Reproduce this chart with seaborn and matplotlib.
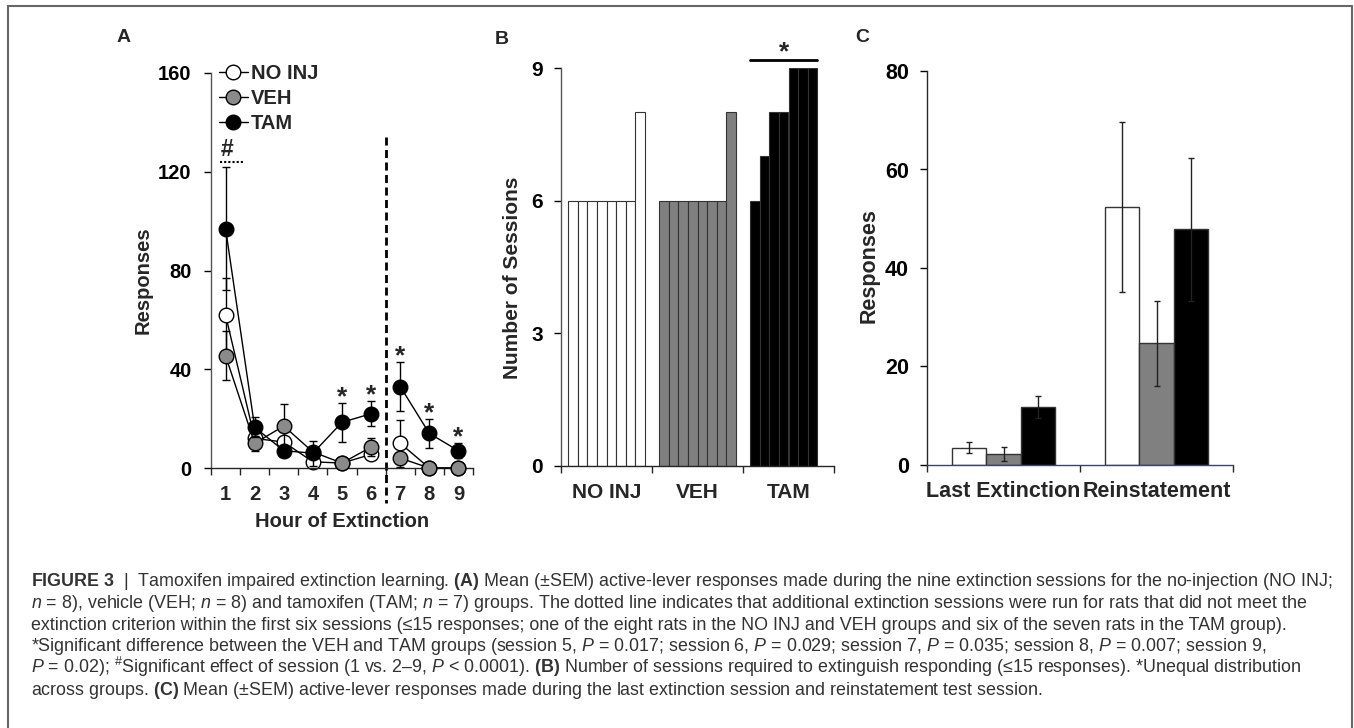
import numpy as np
import pandas as pd
import matplotlib
matplotlib.use("Agg")
import matplotlib.pyplot as plt
from matplotlib.lines import Line2D
import seaborn as sns

# ---------------- data ----------------
hours = [1, 2, 3, 4, 5, 6, 7, 8, 9]
groups = ["NO INJ", "VEH", "TAM"]
noinj_mean = [62, 12, 10.5, 2.5, 2, 5.5, 10, 0, 0]
noinj_sem = [15, 2, 2, 1, 1, 1.5, 9.5, 0.5, 0.5]
veh_mean = [45.5, 10, 17, 6.5, 2, 8.5, 4, 0, 0]
veh_sem = [10, 3, 9, 2, 1, 3.5, 2, 0.5, 0.5]
tam_mean = [97, 16.5, 7, 6, 18.5, 22, 33, 14, 7]
tam_sem = [25, 4, 2, 5, 8, 5, 10, 6, 3]
sig_hours = [5, 6, 7, 8, 9]
a_yticks = [0, 40, 80, 120, 160]

sessions_noinj = [6, 6, 6, 6, 6, 6, 6, 8]
sessions_veh = [6, 6, 6, 6, 6, 6, 6, 8]
sessions_tam = [6, 7, 8, 8, 9, 9, 9]
b_yticks = [0, 3, 6, 9]

phases = ["Last Extinction", "Reinstatement"]
c_noinj_mean = [3.5, 52.4]
c_noinj_sem = [1.1, 17.3]
c_veh_mean = [2.2, 24.7]
c_veh_sem = [1.4, 8.7]
c_tam_mean = [11.8, 47.9]
c_tam_sem = [2.3, 14.5]
c_yticks = [0, 20, 40, 60, 80]

caption_lines = [
    r"$\mathbf{FIGURE\ 3}$  |  Tamoxifen impaired extinction learning. $\mathbf{(A)}$ Mean (±SEM) active-lever responses made during the nine extinction sessions for the no-injection (NO INJ;",
    r"$\mathit{n}$ = 8), vehicle (VEH; $\mathit{n}$ = 8) and tamoxifen (TAM; $\mathit{n}$ = 7) groups. The dotted line indicates that additional extinction sessions were run for rats that did not meet the",
    r"extinction criterion within the first six sessions (≤15 responses; one of the eight rats in the NO INJ and VEH groups and six of the seven rats in the TAM group).",
    r"*Significant difference between the VEH and TAM groups (session 5, $\mathit{P}$ = 0.017; session 6, $\mathit{P}$ = 0.029; session 7, $\mathit{P}$ = 0.035; session 8, $\mathit{P}$ = 0.007; session 9,",
    r"$\mathit{P}$ = 0.02); $^{\#}$Significant effect of session (1 vs. 2–9, $\mathit{P}$ < 0.0001). $\mathbf{(B)}$ Number of sessions required to extinguish responding (≤15 responses). *Unequal distribution",
    r"across groups. $\mathbf{(C)}$ Mean (±SEM) active-lever responses made during the last extinction session and reinstatement test session.",
]

# ---------------- style ----------------
sns.set_style("ticks")
plt.rcParams["font.family"] = ["Liberation Sans", "DejaVu Sans"]
plt.rcParams["mathtext.fontset"] = "custom"
plt.rcParams["mathtext.rm"] = "Liberation Sans"
plt.rcParams["mathtext.it"] = "Liberation Sans:italic"
plt.rcParams["mathtext.bf"] = "Liberation Sans:bold"
plt.rcParams["axes.linewidth"] = 1.0

W, H = 1354, 728
fig = plt.figure(figsize=(W / 100, H / 100), dpi=100)
fig.patch.set_facecolor("white")


def rect(l, t, r, b):
    return [l / W, 1 - b / H, (r - l) / W, (b - t) / H]


def style_axes(ax, fs, ypad, xpad):
    sns.despine(ax=ax)
    ax.tick_params(axis="y", direction="out", length=5, width=1, pad=ypad,
                   labelsize=fs, colors="black")
    ax.tick_params(axis="x", which="major", length=0, pad=xpad, labelsize=fs)
    ax.tick_params(axis="x", which="minor", direction="out", length=5, width=1)
    for lab in ax.get_xticklabels() + ax.get_yticklabels():
        lab.set_fontweight("bold")


# ---------------- panel A ----------------
axA = fig.add_axes(rect(211, 73, 473, 468))
a_colors = ["white", "#8a8a8a", "black"]
a_means = [noinj_mean, veh_mean, tam_mean]
a_sems = [noinj_sem, veh_sem, tam_sem]
for k, (g, m, s, c) in enumerate(zip(groups, a_means, a_sems, a_colors)):
    df = pd.DataFrame({"hour": hours, "resp": m,
                       "seg": ["a" if h <= 6 else "b" for h in hours]})
    axA.errorbar(hours, m, yerr=s, fmt="none", ecolor="black", elinewidth=1,
                 capsize=3, capthick=1, zorder=2 + k)
    sns.lineplot(data=df, x="hour", y="resp", units="seg", estimator=None,
                 color="black", linewidth=1, marker="o", markersize=10.5,
                 markerfacecolor=c, markeredgecolor="black", markeredgewidth=1,
                 ax=axA, zorder=2.5 + k, clip_on=False, legend=False)
axA.set_xlim(0.5, 9.5)
axA.set_ylim(0, 160)
axA.set_yticks(a_yticks)
axA.set_xticks(hours)
axA.set_xticks(np.arange(0.5, 10, 1), minor=True)
axA.set_xticklabels([str(h) for h in hours])
axA.set_xlabel("Hour of Extinction", fontsize=14.5, fontweight="bold", labelpad=6)
axA.set_ylabel("Responses", fontsize=14.5, fontweight="bold")
axA.yaxis.set_label_coords(-0.221, 0.476)
style_axes(axA, 14.5, 9, 12)
axA.spines["left"].set_color("#555555")
# dashed separator and significance marks
axA.plot([6.5, 6.5], [134, -14], color="black", lw=2, ls=(0, (2.9, 1.6)),
         clip_on=False, zorder=1)
axA.plot([0.8, 1.65], [124, 124], color="black", lw=1.5, ls=(0, (1, 1)),
         clip_on=False)
axA.text(1.04, 126.5, "#", ha="center", va="baseline", fontsize=16.5, fontweight="bold")
for h in sig_hours:
    i = hours.index(h)
    axA.text(h, tam_mean[i] + tam_sem[i] - 0.5, "*", ha="center", va="baseline",
             fontsize=19, fontweight="bold")
handles = [Line2D([], [], color="black", lw=1, marker="o", markersize=10.5,
                  markerfacecolor=c, markeredgecolor="black") for c in a_colors]
leg = axA.legend(handles, groups, loc="upper left", bbox_to_anchor=(0.03, 1.022),
                 frameon=False, handlelength=1.45, handletextpad=0.15,
                 labelspacing=0.3, borderpad=0, borderaxespad=0,
                 prop={"size": 14.5, "weight": "bold"})

# ---------------- panel B ----------------
axB = fig.add_axes(rect(561, 68, 834, 466))
b_sessions = [sessions_noinj, sessions_veh, sessions_tam]
b_colors = ["white", "#808080", "black"]
n_max = max(len(s) for s in b_sessions)
rat_order = [f"r{i + 1}" for i in range(n_max)]
for g, s, c in zip(groups, b_sessions, b_colors):
    df = pd.DataFrame({"group": g, "sessions": s,
                       "rat": rat_order[:len(s)]})
    sns.barplot(data=df, x="group", y="sessions", hue="rat", order=groups,
                hue_order=rat_order, palette=[c] * n_max, width=0.84,
                edgecolor="#333333", linewidth=0.8, saturation=1,
                legend=False, ax=axB)
axB.set_xlim(-0.5, 2.5)
axB.set_ylim(0, 9)
axB.set_yticks(b_yticks)
axB.set_xticks([0, 1, 2])
axB.set_xticklabels(groups)
axB.set_xticks([-0.5, 0.5, 1.5, 2.5], minor=True)
axB.set_xlabel("")
axB.set_ylabel("Number of Sessions", fontsize=15, fontweight="bold")
axB.yaxis.set_label_coords(-0.143, 0.474)
style_axes(axB, 15, 8, 12.5)
axB.spines["left"].set_color("#555555")
tam_bars = [p for p in axB.patches if p.get_height() > 0 and p.get_facecolor()[0] < 0.1]
x0 = min(p.get_x() for p in tam_bars)
x1 = max(p.get_x() + p.get_width() for p in tam_bars)
axB.plot([x0, x1], [9.18, 9.18], color="black", lw=2, clip_on=False)
axB.text((x0 + x1) / 2, 9.2, "*", ha="center", va="baseline", fontsize=19,
         fontweight="bold", clip_on=False)

# ---------------- panel C ----------------
axC = fig.add_axes(rect(927, 71, 1233, 465))
c_means = [c_noinj_mean, c_veh_mean, c_tam_mean]
c_sems = [c_noinj_sem, c_veh_sem, c_tam_sem]
rows = []
for g, m in zip(groups, c_means):
    for ph, v in zip(phases, m):
        rows.append({"phase": ph, "group": g, "resp": v})
dfC = pd.DataFrame(rows)
sns.barplot(data=dfC, x="phase", y="resp", hue="group", order=phases,
            hue_order=groups, palette=["white", "#808080", "black"], width=0.667,
            edgecolor="#333333", linewidth=1, saturation=1, legend=False, ax=axC)
for cont, s in zip(axC.containers, c_sems):
    xs = [b.get_x() + b.get_width() / 2 for b in cont]
    ys = [b.get_height() for b in cont]
    axC.errorbar(xs, ys, yerr=s, fmt="none", ecolor="#222222", elinewidth=1,
                 capsize=2.5, capthick=1, zorder=5)
axC.set_xlim(-0.5, 1.5)
axC.set_ylim(0, 80)
axC.set_yticks(c_yticks)
axC.set_xticks([0, 1])
axC.set_xticklabels(phases)
axC.set_xticks([-0.5, 0.5, 1.5], minor=True)
axC.set_xlabel("")
axC.set_ylabel("Responses", fontsize=15.5, fontweight="bold")
axC.yaxis.set_label_coords(-0.154, 0.505)
style_axes(axC, 15.5, 8, 11.5)
axC.spines["bottom"].set_color("#3b4470")

# ---------------- panel letters ----------------
fig.text(124 / W, 1 - 37 / H, "A", ha="center", va="center", fontsize=14, fontweight="bold")
fig.text(502 / W, 1 - 39 / H, "B", ha="center", va="center", fontsize=14, fontweight="bold")
fig.text(862 / W, 1 - 38 / H, "C", ha="center", va="center", fontsize=14, fontweight="bold")

# ---------------- caption ----------------
renderer = fig.canvas.get_renderer()
probe = fig.text(0, 0, caption_lines[0], fontsize=10)
w10 = probe.get_window_extent(renderer).width
probe.remove()
cap_fs = 10 * 1300 / w10
for k, line in enumerate(caption_lines):
    fig.text(31 / W, 1 - (586 + 21.8 * k) / H, line, fontsize=cap_fs,
             color="#333333", ha="left", va="baseline")

# ---------------- frame ----------------
frame_kw = dict(color="#666666", lw=1.5, transform=fig.transFigure)
fig.add_artist(Line2D([8 / W, 8 / W], [0, 1 - 6 / H], **frame_kw))
fig.add_artist(Line2D([8 / W, 1352 / W], [1 - 6 / H, 1 - 6 / H], **frame_kw))
fig.add_artist(Line2D([1352 / W, 1352 / W], [0, 1 - 6 / H], **frame_kw))

fig.savefig("out.png", dpi=100, facecolor="white")
